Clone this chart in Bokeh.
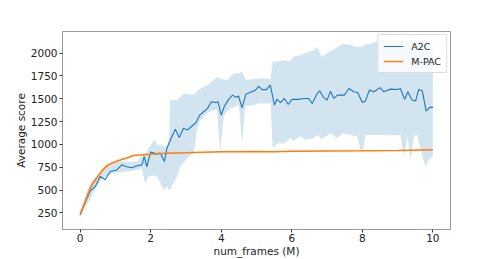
from bokeh.plotting import figure
from bokeh.models import Legend, LegendItem, FixedTicker, ColumnDataSource
from bokeh.embed import file_html
from bokeh.resources import INLINE

# A2C mean curve
a2c_x = [0.0, 0.14, 0.28, 0.43, 0.57, 0.71, 0.85, 1.04, 1.18, 1.32, 1.47, 1.61, 1.75, 1.82, 1.89,
         2.0, 2.17, 2.27, 2.39, 2.46, 2.58, 2.7, 2.81, 2.93, 3.05, 3.17, 3.28, 3.39, 3.5, 3.61,
         3.72, 3.83, 3.91, 4.0, 4.09, 4.21, 4.32, 4.42, 4.49, 4.59, 4.70, 4.83, 4.97, 5.06, 5.16,
         5.28, 5.39, 5.51, 5.58, 5.68, 5.79, 5.90, 6.01, 6.2, 6.34, 6.48, 6.58, 6.72, 6.79, 6.89,
         7.0, 7.1, 7.19, 7.30, 7.49, 7.62, 7.76, 7.87, 8.0, 8.09, 8.2, 8.33, 8.5, 8.61, 8.80,
         8.99, 9.08, 9.2, 9.29, 9.41, 9.51, 9.60, 9.70, 9.81, 9.91, 10.0]
a2c_y = [230, 360, 485, 540, 650, 613, 703, 720, 776, 755, 745, 766, 776, 867, 755,
         915, 896, 905, 812, 958, 1067, 1165, 1074, 1176, 1158, 1201, 1237, 1321, 1357, 1394,
         1466, 1458, 1466, 1321, 1418, 1493, 1539, 1515, 1530, 1400, 1550, 1570, 1594, 1636, 1600,
         1600, 1648, 1430, 1495, 1458, 1503, 1437, 1493, 1493, 1503, 1503, 1448, 1557, 1587, 1521,
         1485, 1583, 1503, 1539, 1539, 1612, 1576, 1568, 1458, 1476, 1594, 1576, 1622, 1576, 1605,
         1601, 1612, 1493, 1576, 1485, 1474, 1601, 1587, 1365, 1405, 1405]

# A2C spread band
band_x = [0.0, 0.1, 0.28, 0.47, 0.66, 0.76, 0.95, 1.14, 1.32, 1.61, 1.75, 1.84, 1.95, 2.1, 2.2,
          2.27, 2.37, 2.46, 2.52, 2.55, 2.74, 2.84, 2.93, 3.08, 3.22, 3.31, 3.41, 3.6, 3.78, 3.88,
          3.97, 4.07, 4.16, 4.26, 4.35, 4.50, 4.59, 4.68, 4.73, 4.92, 5.1, 5.40, 5.46, 5.6, 5.8,
          5.95, 6.05, 6.24, 6.4, 6.62, 6.72, 6.85, 7.1, 7.28, 7.45, 7.66, 7.85, 7.99, 8.09, 8.3,
          8.5, 8.8, 9.08, 9.18, 9.28, 9.37, 9.46, 9.56, 9.65, 9.79, 9.88, 10.0]
band_lo = [196, 290, 395, 540, 631, 655, 686, 695, 703, 720, 740, 577, 650, 660, 640,
           577, 502, 540, 502, 502, 649, 758, 800, 867, 904, 1158, 1267, 1340, 1376, 1380,
           921, 1303, 1360, 1394, 1410, 1430, 1013, 1418, 1420, 1430, 1449, 1450, 958, 1013, 1013,
           1067, 1040, 1085, 1050, 1067, 1103, 1060, 1121, 1070, 1121, 1103, 1090, 885, 1103, 1103,
           1103, 1100, 1103, 867, 1085, 830, 1090, 1103, 950, 758, 830, 867]
band_hi = [265, 380, 577, 649, 740, 758, 800, 812, 810, 812, 885, 900, 960, 1048, 990,
           1000, 980, 976, 1050, 1485, 1485, 1520, 1558, 1550, 1540, 1580, 1612, 1648, 1700, 1739,
           1720, 1710, 1703, 1740, 1776, 1780, 1794, 1720, 1703, 1715, 1721, 1720, 1902, 1910, 1920,
           1910, 1960, 1975, 2000, 2030, 2065, 1956, 2020, 2060, 2100, 2090, 2065, 2070, 2090, 2110,
           2137, 2130, 2135, 2130, 2137, 2130, 2137, 2137, 2137, 2137, 2137, 2137]

# M-PAC curve and spread
mpac_x = [0.0, 0.1, 0.2, 0.3, 0.4, 0.5, 0.6, 0.7, 0.8, 0.9, 1.0, 1.2, 1.4, 1.5, 1.7, 2.0, 2.5,
          3.0, 3.5, 4.0, 5.0, 5.5, 6.0, 7.0, 8.0, 9.0, 10.0]
mpac_y = [230, 330, 431, 530, 594, 650, 700, 745, 775, 795, 810, 838, 860, 878, 885, 893, 904,
          908, 913, 918, 922, 918, 925, 928, 930, 933, 940]
mpac_lo = [205, 300, 400, 500, 565, 625, 675, 723, 756, 780, 798, 828, 852, 870, 879, 887, 898,
           903, 908, 913, 917, 913, 920, 923, 925, 928, 935]
mpac_hi = [255, 360, 462, 560, 623, 675, 725, 767, 794, 810, 822, 848, 868, 886, 891, 899, 910,
           913, 918, 923, 927, 923, 930, 933, 935, 938, 945]

x_ticks = [0, 2, 4, 6, 8, 10]
y_ticks = [250, 500, 750, 1000, 1250, 1500, 1750, 2000]

BLUE = "#1f77b4"
ORANGE = "#ff7f0e"
FONT = "DejaVu Sans"

p = figure(width=500, height=259, output_backend="svg", toolbar_location=None,
           x_range=(-0.5, 10.5), y_range=(68, 2236),
           min_border_left=62, min_border_right=50, min_border_top=31, min_border_bottom=29)
p.background_fill_color = "white"
p.border_fill_color = "white"
p.outline_line_color = "#999999"
p.outline_line_width = 1
p.grid.visible = False

band = ColumnDataSource(dict(x=band_x, lo=band_lo, hi=band_hi))
p.varea(x="x", y1="lo", y2="hi", source=band, fill_color=BLUE, fill_alpha=0.2)
mband = ColumnDataSource(dict(x=mpac_x, lo=mpac_lo, hi=mpac_hi))
p.varea(x="x", y1="lo", y2="hi", source=mband, fill_color=ORANGE, fill_alpha=0.2)

r_a2c = p.line(a2c_x, a2c_y, line_color=BLUE, line_width=1.1)
r_mpac = p.line(mpac_x, mpac_y, line_color=ORANGE, line_width=1.5)

for ax in (p.xaxis[0], p.yaxis[0]):
    ax.axis_line_color = None
    ax.major_tick_line_color = "#333333"
    ax.major_tick_out = 3
    ax.major_tick_in = 0
    ax.minor_tick_line_color = None
    ax.major_label_text_font = FONT
    ax.major_label_text_font_size = "10.5px"
    ax.major_label_text_color = "#222222"
    ax.axis_label_text_font = FONT
    ax.axis_label_text_font_size = "10.5px"
    ax.axis_label_text_font_style = "normal"
    ax.axis_label_text_color = "#222222"
    ax.major_label_standoff = 2
    ax.axis_label_standoff = 1

p.xaxis[0].ticker = FixedTicker(ticks=x_ticks)
p.yaxis[0].ticker = FixedTicker(ticks=y_ticks)
p.xaxis[0].axis_label = "num_frames (M)"
p.yaxis[0].axis_label = "Average score"
p.xaxis[0].major_label_standoff = 1
p.xaxis[0].axis_label_standoff = 0

legend = Legend(items=[LegendItem(label="A2C", renderers=[r_a2c]),
                       LegendItem(label="M-PAC", renderers=[r_mpac])],
                location="top_right")
legend.label_text_font = FONT
legend.label_text_font_size = "9.5px"
legend.label_text_color = "#222222"
legend.border_line_color = "#dddddd"
legend.border_line_alpha = 1
legend.background_fill_alpha = 0.8
legend.glyph_width = 20
legend.glyph_height = 12
legend.label_height = 12
legend.spacing = 3
legend.padding = 5
legend.margin = 3
legend.label_standoff = 8
p.add_layout(legend)

open("out.html", "w").write(file_html(p, INLINE))
